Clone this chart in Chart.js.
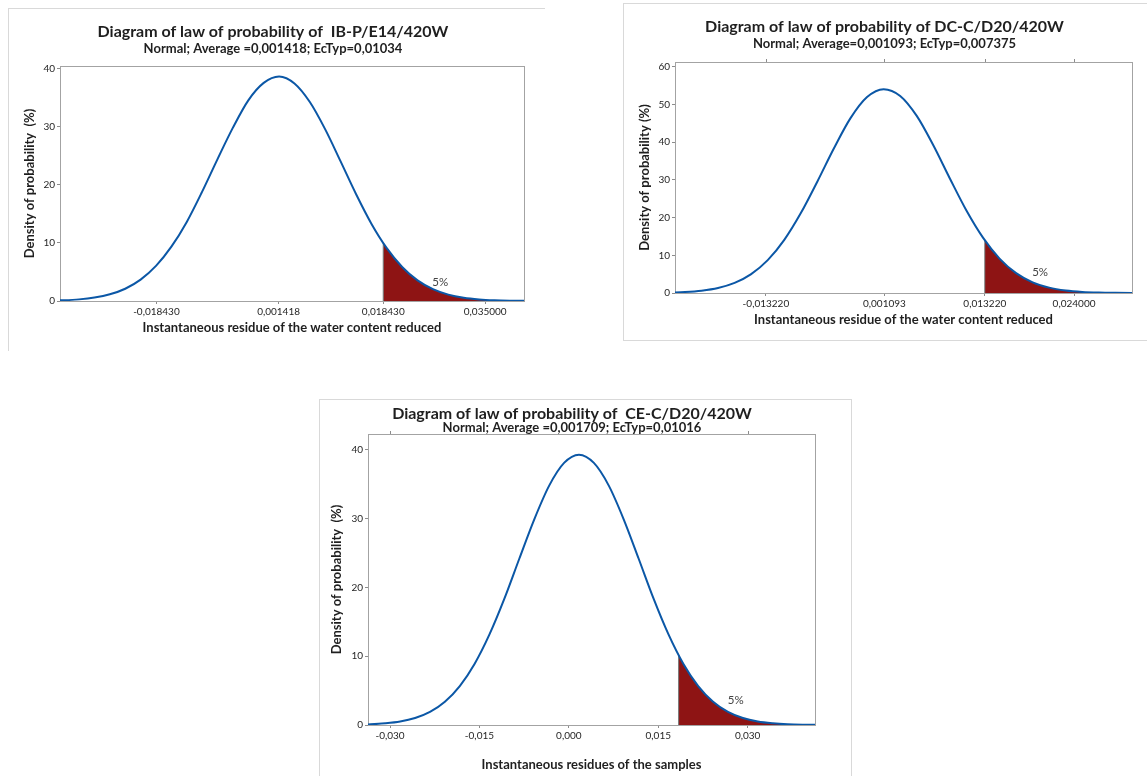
<!DOCTYPE html>
<html lang="en">
<head>
    <meta charset="UTF-8">
    <title>Diagrams of law of probability</title>
    <script src="https://cdn.jsdelivr.net/npm/chart.js"></script>
    <style>
        body {
            margin: 0;
            width: 1147px;
            height: 776px;
            overflow: hidden;
            position: relative;
            background: #fff;
            font-family: Lato, sans-serif;
        }

        .frame {
            position: absolute;
            box-sizing: border-box;
            border: 0 solid #d9d9d9;
        }

        .box {
            position: absolute;
        }
    </style>
</head>
<body>
    <div class="frame" style="left:8px; top:8px; width:537px; height:343px; border-top-width:1px; border-left-width:1px;"></div>
    <div class="frame" style="left:623px; top:3px; width:530px; height:338px; border-top-width:1px; border-left-width:1px; border-bottom-width:1px;"></div>
    <div class="frame" style="left:319px; top:399px; width:533px; height:400px; border-top-width:1px; border-left-width:1px; border-right-width:1px;"></div>

    <div class="box" style="left:8px; top:8px;"><canvas id="chartIB" width="537" height="342"></canvas></div>
    <div class="box" style="left:623px; top:3px;"><canvas id="chartDC" width="530" height="337"></canvas></div>
    <div class="box" style="left:319px; top:399px;"><canvas id="chartCE" width="532" height="377"></canvas></div>

    <script>
        // IB-P/E14/420W (density every 0.0025)
        const ibX = [-0.0360, -0.0335, -0.0310, -0.0285, -0.0260, -0.0235, -0.0210, -0.0185, -0.0160, -0.0135, -0.0110, -0.0085, -0.0060, -0.0035, -0.0010, 0.0015, 0.0040, 0.0065, 0.0090, 0.0115, 0.0140, 0.0165, 0.0190, 0.0215, 0.0240, 0.0265, 0.0290, 0.0315, 0.0340, 0.0365, 0.0390, 0.0415];
        const ibDensity = [0.06, 0.13, 0.28, 0.59, 1.15, 2.11, 3.68, 6.03, 9.34, 13.6, 18.8, 24.4, 29.8, 34.5, 37.5, 38.6, 37.4, 34.2, 29.5, 24.0, 18.4, 13.3, 9.09, 5.85, 3.55, 2.04, 1.10, 0.56, 0.27, 0.12, 0.05, 0.02];
        const ibCut = 0.01843;        // 5% tail starts here
        const ibCutDensity = 10.0;
        const ibXTicks = [-0.01843, 0.001418, 0.01843, 0.035];
        const ibXLabels = ['-0,018430', '0,001418', '0,018430', '0,035000'];
        const ibYTicks = [0, 10, 20, 30, 40];

        // DC-C/D20/420W (every 0.002)
        const dcX = [-0.025, -0.023, -0.021, -0.019, -0.017, -0.015, -0.013, -0.011, -0.009, -0.007, -0.005, -0.003, -0.001, 0.001, 0.003, 0.005, 0.007, 0.009, 0.011, 0.013, 0.015, 0.017, 0.019, 0.021, 0.023, 0.025, 0.027, 0.029, 0.031, 0.033];
        const dcDensity = [0.10, 0.26, 0.61, 1.32, 2.67, 5.00, 8.71, 14.1, 21.2, 29.6, 38.4, 46.4, 52.0, 54.1, 52.3, 47.0, 39.2, 30.4, 21.9, 14.7, 9.14, 5.28, 2.84, 1.42, 0.66, 0.28, 0.11, 0.04, 0.01, 0.00];
        const dcCut = 0.01322;
        const dcCutDensity = 14.0;
        const dcXTicks = [-0.01322, 0.001093, 0.01322, 0.024];
        const dcXLabels = ['-0,013220', '0,001093', '0,013220', '0,024000'];
        const dcYTicks = [0, 10, 20, 30, 40, 50, 60];

        // CE-C/D20/420W (every 0.0025)
        const ceX = [-0.0358, -0.0333, -0.0308, -0.0283, -0.0258, -0.0233, -0.0208, -0.0183, -0.0158, -0.0133, -0.0108, -0.0083, -0.0058, -0.0033, -0.0008, 0.0017, 0.0042, 0.0067, 0.0092, 0.0117, 0.0142, 0.0167, 0.0192, 0.0217, 0.0242, 0.0267, 0.0292, 0.0317, 0.0342, 0.0367, 0.0392, 0.0417];
        const ceDensity = [0.04, 0.10, 0.24, 0.50, 1.01, 1.90, 3.38, 5.66, 8.91, 13.2, 18.4, 24.2, 29.9, 34.8, 38.1, 39.3, 38.1, 34.8, 29.9, 24.2, 18.4, 13.2, 8.91, 5.66, 3.38, 1.90, 1.01, 0.50, 0.24, 0.10, 0.04, 0.02];
        const ceCut = 0.01842;
        const ceCutDensity = 10.2;
        const ceXTicks = [-0.030, -0.015, 0.000, 0.015, 0.030];
        const ceXLabels = ['-0,030', '-0,015', '0,000', '0,015', '0,030'];
        const ceYTicks = [0, 10, 20, 30, 40];

        const BLUE = '#0b57a6';
        const RED = '#8e1414';
        const TEXT = '#1f1f1f';

        Chart.defaults.font.family = "Lato, 'Noto Sans', sans-serif";
        Chart.defaults.color = TEXT;

        // plot box, top tick marks and the "5%" note
        const plotFrame = {
            id: 'plotFrame',
            beforeDatasetsDraw(chart) {
                const a = chart.chartArea;
                const ctx = chart.ctx;
                ctx.save();
                ctx.strokeStyle = '#a3a3a3';
                ctx.lineWidth = 1;
                ctx.strokeRect(Math.round(a.left) + 0.5, Math.round(a.top) + 0.5,
                    Math.round(a.right - a.left), Math.round(a.bottom - a.top));
                ctx.restore();
            },
            afterDatasetsDraw(chart, args, opts) {
                const ctx = chart.ctx;
                const top = Math.round(chart.chartArea.top);
                ctx.save();
                ctx.strokeStyle = '#8c8c8c';
                ctx.lineWidth = 1;
                (opts.topTicks || []).forEach(v => {
                    const px = Math.round(chart.scales.x.getPixelForValue(v)) + 0.5;
                    ctx.beginPath();
                    ctx.moveTo(px, top);
                    ctx.lineTo(px, top - 3);
                    ctx.stroke();
                });
                if (opts.note) {
                    ctx.fillStyle = '#444';
                    ctx.font = "11.5px Lato, 'Noto Sans', sans-serif";
                    ctx.textAlign = 'center';
                    ctx.textBaseline = 'middle';
                    ctx.fillText(opts.note.text,
                        chart.scales.x.getPixelForValue(opts.note.x),
                        chart.scales.y.getPixelForValue(opts.note.y));
                }
                ctx.restore();
            }
        };

        function buildChart(id, s) {
            const points = s.x.map((x, i) => ({ x: x, y: s.y[i] }));
            const tail = [{ x: s.cut, y: s.cutY }].concat(points.filter(p => p.x > s.cut));
            const cutLine = [{ x: s.cut, y: 0 }, { x: s.cut, y: s.cutY }];

            return new Chart(document.getElementById(id), {
                type: 'line',
                data: {
                    datasets: [
                        { data: points, borderColor: BLUE, borderWidth: 2, pointRadius: 0, cubicInterpolationMode: 'monotone', fill: false },
                        { data: cutLine, borderColor: '#6e6e6e', borderWidth: 1, pointRadius: 0, fill: false },
                        { data: tail, borderColor: 'rgba(0,0,0,0)', backgroundColor: RED, pointRadius: 0, cubicInterpolationMode: 'monotone', fill: 'origin' }
                    ]
                },
                options: {
                    responsive: false,
                    animation: false,
                    devicePixelRatio: 1,
                    layout: { padding: s.pad },
                    plugins: {
                        legend: { display: false },
                        tooltip: { enabled: false },
                        title: {
                            display: true,
                            text: s.title,
                            color: TEXT,
                            font: { size: 16, weight: 'bold', lineHeight: s.titleLH },
                            padding: { top: s.titleTop, bottom: 0 }
                        },
                        subtitle: {
                            display: true,
                            text: s.subtitle,
                            color: TEXT,
                            font: { size: 13, weight: 'bold', lineHeight: s.subLH },
                            padding: { top: 0, bottom: s.subBottom }
                        },
                        plotFrame: { topTicks: s.topTicks, note: s.note }
                    },
                    scales: {
                        x: {
                            type: 'linear',
                            min: s.xMin,
                            max: s.xMax,
                            afterBuildTicks: sc => { sc.ticks = s.xTicks.map(v => ({ value: v })); },
                            afterFit: sc => { sc.height = s.xH; },
                            ticks: {
                                callback: (v, i) => s.xLabels[i],
                                autoSkip: false,
                                maxRotation: 0,
                                padding: 2,
                                color: '#262626',
                                font: { size: 10 }
                            },
                            grid: { drawOnChartArea: false, tickLength: 3, color: '#8c8c8c' },
                            border: { display: false },
                            title: {
                                display: true,
                                text: s.xTitle,
                                color: TEXT,
                                font: { size: 13, weight: 'bold', lineHeight: '16px' },
                                padding: 0
                            }
                        },
                        y: {
                            min: 0,
                            max: s.yMax,
                            afterBuildTicks: sc => { sc.ticks = s.yTicks.map(v => ({ value: v })); },
                            afterFit: sc => { sc.width = s.yW; },
                            ticks: {
                                callback: v => String(v),
                                padding: 2,
                                color: '#262626',
                                font: { size: 10 }
                            },
                            grid: { drawOnChartArea: false, tickLength: 3, color: '#8c8c8c' },
                            border: { display: false },
                            title: {
                                display: true,
                                text: s.yTitle,
                                color: TEXT,
                                font: { size: 13, weight: 'bold', lineHeight: '16px' },
                                padding: 0
                            }
                        }
                    }
                },
                plugins: [plotFrame]
            });
        }

        buildChart('chartIB', {
            x: ibX, y: ibDensity, cut: ibCut, cutY: ibCutDensity,
            xMin: -0.0341, xMax: 0.0413, yMax: 40.4,
            xTicks: ibXTicks, xLabels: ibXLabels, yTicks: ibYTicks,
            title: 'Diagram of law of probability of  IB-P/E14/420W',
            subtitle: 'Normal; Average =0,001418; EcTyp=0,01034',
            xTitle: 'Instantaneous residue of the water content reduced',
            yTitle: 'Density of probability  (%)',
            pad: { left: 14, right: 21, top: 0, bottom: 14 },
            yW: 38, xH: 35,
            titleTop: 15, titleLH: '18px', subLH: '16px', subBottom: 9,
            topTicks: [],
            note: { text: '5%', x: 0.0277, y: 3.3 }
        });

        buildChart('chartDC', {
            x: dcX, y: dcDensity, cut: dcCut, cutY: dcCutDensity,
            xMin: -0.0242, xMax: 0.031, yMax: 61.3,
            xTicks: dcXTicks, xLabels: dcXLabels, yTicks: dcYTicks,
            title: 'Diagram of law of probability of DC-C/D20/420W',
            subtitle: 'Normal; Average=0,001093; EcTyp=0,007375',
            xTitle: 'Instantaneous residue of the water content reduced',
            yTitle: 'Density of probability (%)',
            pad: { left: 14, right: 21, top: 0, bottom: 12 },
            yW: 38, xH: 35,
            titleTop: 15, titleLH: '18px', subLH: '16px', subBottom: 10,
            topTicks: dcXTicks,
            note: { text: '5%', x: 0.0199, y: 5.4 }
        });

        buildChart('chartCE', {
            x: ceX, y: ceDensity, cut: ceCut, cutY: ceCutDensity,
            xMin: -0.0337, xMax: 0.0413, yMax: 42.3,
            xTicks: ceXTicks, xLabels: ceXLabels, yTicks: ceYTicks,
            title: 'Diagram of law of probability of  CE-C/D20/420W',
            subtitle: 'Normal; Average =0,001709; EcTyp=0,01016',
            xTitle: 'Instantaneous residues of the samples',
            yTitle: 'Density of probability  (%)',
            pad: { left: 10, right: 36, top: 0, bottom: 3 },
            yW: 39, xH: 48,
            titleTop: 7, titleLH: '15px', subLH: '13px', subBottom: 0,
            topTicks: [-0.030, 0.030],
            note: { text: '5%', x: 0.028, y: 3.6 }
        });
    </script>
</body>
</html>
